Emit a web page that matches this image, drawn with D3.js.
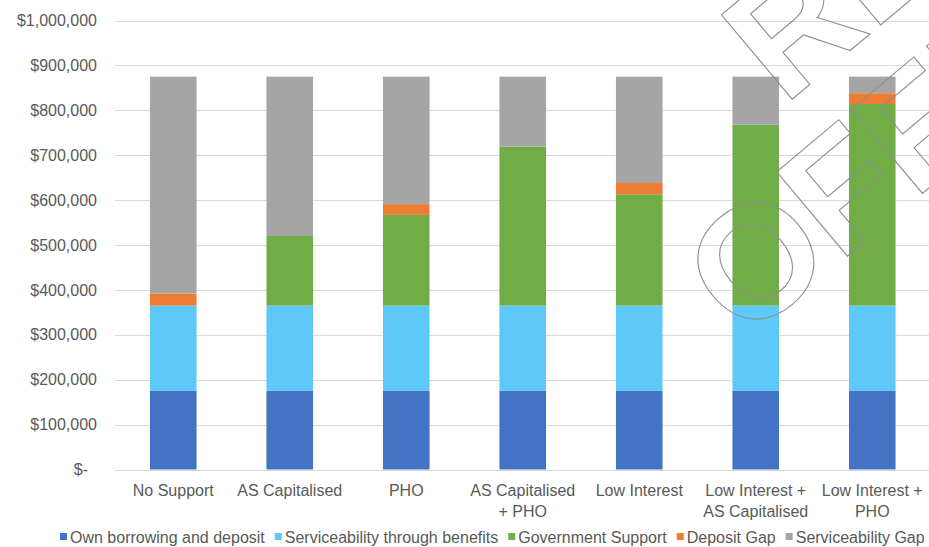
<!DOCTYPE html>
<html>
<head>
<meta charset="utf-8">
<script src="https://cdn.jsdelivr.net/npm/d3@7"></script>
<style>
  html, body { margin: 0; padding: 0; background: #fff; }
  svg { display: block; font-family: "Liberation Sans", Arial, sans-serif; }
</style>
</head>
<body>
<svg id="chart" width="929" height="547"></svg>
<script>
// Funding stack per support scenario (NZ$)
const categories = [
  "No Support", "AS Capitalised", "PHO", "AS Capitalised + PHO",
  "Low Interest", "Low Interest + AS Capitalised", "Low Interest + PHO"
];
const categoryLines = [
  ["No Support"], ["AS Capitalised"], ["PHO"], ["AS Capitalised", "+ PHO"],
  ["Low Interest"], ["Low Interest +", "AS Capitalised"], ["Low Interest +", "PHO"]
];

const seriesNames = [
  "Own borrowing and deposit",
  "Serviceability through benefits",
  "Government Support",
  "Deposit Gap",
  "Serviceability Gap"
];
const ownBorrowing      = [175000, 175000, 175000, 175000, 175000, 175000, 175000];
const benefits          = [190000, 190000, 190000, 190000, 190000, 190000, 190000];
const governmentSupport = [0, 155000, 202000, 354000, 248000, 403000, 449000];
const depositGap        = [27000, 0, 24000, 0, 25000, 0, 24000];
const serviceabilityGap = [483000, 355000, 284000, 156000, 237000, 107000, 37000];

const seriesColors = ["#4472C4", "#5EC8F8", "#70AD47", "#ED7D31", "#A5A5A5"];

const yTicks = [0, 100000, 200000, 300000, 400000, 500000, 600000, 700000, 800000, 900000, 1000000];
const yTickLabels = ["$-", "$100,000", "$200,000", "$300,000", "$400,000", "$500,000",
  "$600,000", "$700,000", "$800,000", "$900,000", "$1,000,000"];

const seriesValues = [ownBorrowing, benefits, governmentSupport, depositGap, serviceabilityGap];
const rows = categories.map((c, i) => {
  const r = { category: c };
  seriesNames.forEach((s, k) => { r[s] = seriesValues[k][i]; });
  return r;
});

const svg = d3.select("#chart");
const plotLeft = 115, plotRight = 930.5, plotTop = 20.5, plotBottom = 469.5;

const x = d3.scaleBand().domain(categories).range([plotLeft, plotRight])
  .paddingInner(0.6).paddingOuter(0.3);
const y = d3.scaleLinear().domain([0, 1000000]).range([plotBottom, plotTop]);
const color = d3.scaleOrdinal().domain(seriesNames).range(seriesColors);

// Horizontal gridlines
svg.append("g").attr("class", "grid")
  .selectAll("line").data(yTicks).join("line")
  .attr("x1", plotLeft).attr("x2", 929)
  .attr("y1", d => Math.round(y(d)) + 0.5).attr("y2", d => Math.round(y(d)) + 0.5)
  .attr("stroke", "#D9D9D9").attr("stroke-width", 1);

// Y axis labels
const yAxis = d3.axisLeft(y).tickValues(yTicks)
  .tickFormat((d, i) => yTickLabels[i]).tickSize(0).tickPadding(0);
const yg = svg.append("g").attr("transform", "translate(97,0)").call(yAxis);
yg.select(".domain").remove();
yg.selectAll("text")
  .attr("fill", "#595959").attr("font-size", 16)
  .style("font-family", "'Liberation Sans', Arial, sans-serif")
  .attr("dx", (d) => d === 0 ? -9 : 0);

// Stacked bars
const stacked = d3.stack().keys(seriesNames)(rows);
svg.append("g").attr("class", "bars")
  .selectAll("g").data(stacked).join("g")
  .attr("fill", d => color(d.key))
  .selectAll("rect").data(d => d).join("rect")
  .attr("x", d => x(d.data.category))
  .attr("width", x.bandwidth())
  .attr("y", d => y(d[1]))
  .attr("height", d => y(d[0]) - y(d[1]));

// Category labels
const xg = svg.append("g").attr("class", "x-labels");
categories.forEach((c, i) => {
  const t = xg.append("text")
    .attr("x", x(c) + x.bandwidth() / 2)
    .attr("y", 496)
    .attr("text-anchor", "middle")
    .attr("fill", "#595959").attr("font-size", 16);
  categoryLines[i].forEach((line, j) => {
    t.append("tspan").attr("x", x(c) + x.bandwidth() / 2)
      .attr("dy", j === 0 ? 0 : 21).text(line);
  });
});

// Legend
const legend = svg.append("g").attr("class", "legend");
let lx = 60;
seriesNames.forEach((s, i) => {
  legend.append("rect").attr("x", lx).attr("y", 533).attr("width", 7).attr("height", 7)
    .attr("fill", seriesColors[i]);
  const t = legend.append("text").attr("x", lx + 10).attr("y", 542.5)
    .attr("fill", "#595959").attr("font-size", 16).text(s);
  lx += 10 + t.node().getComputedTextLength() + 10;
});

// Release stamp overlay
const stamp = svg.append("g").attr("class", "stamp")
  .attr("fill", "none").attr("stroke", "#8E8E8E").attr("stroke-width", 1.1)
  .attr("font-size", 160).attr("font-weight", "bold");
stamp.append("text").attr("transform", "translate(784,106) rotate(-40)")
  .text("RELEASED UNDER THE");
stamp.append("text").attr("transform", "translate(744,343) rotate(-40)")
  .text("OFFICIAL INFORMATION ACT");
</script>
</body>
</html>
